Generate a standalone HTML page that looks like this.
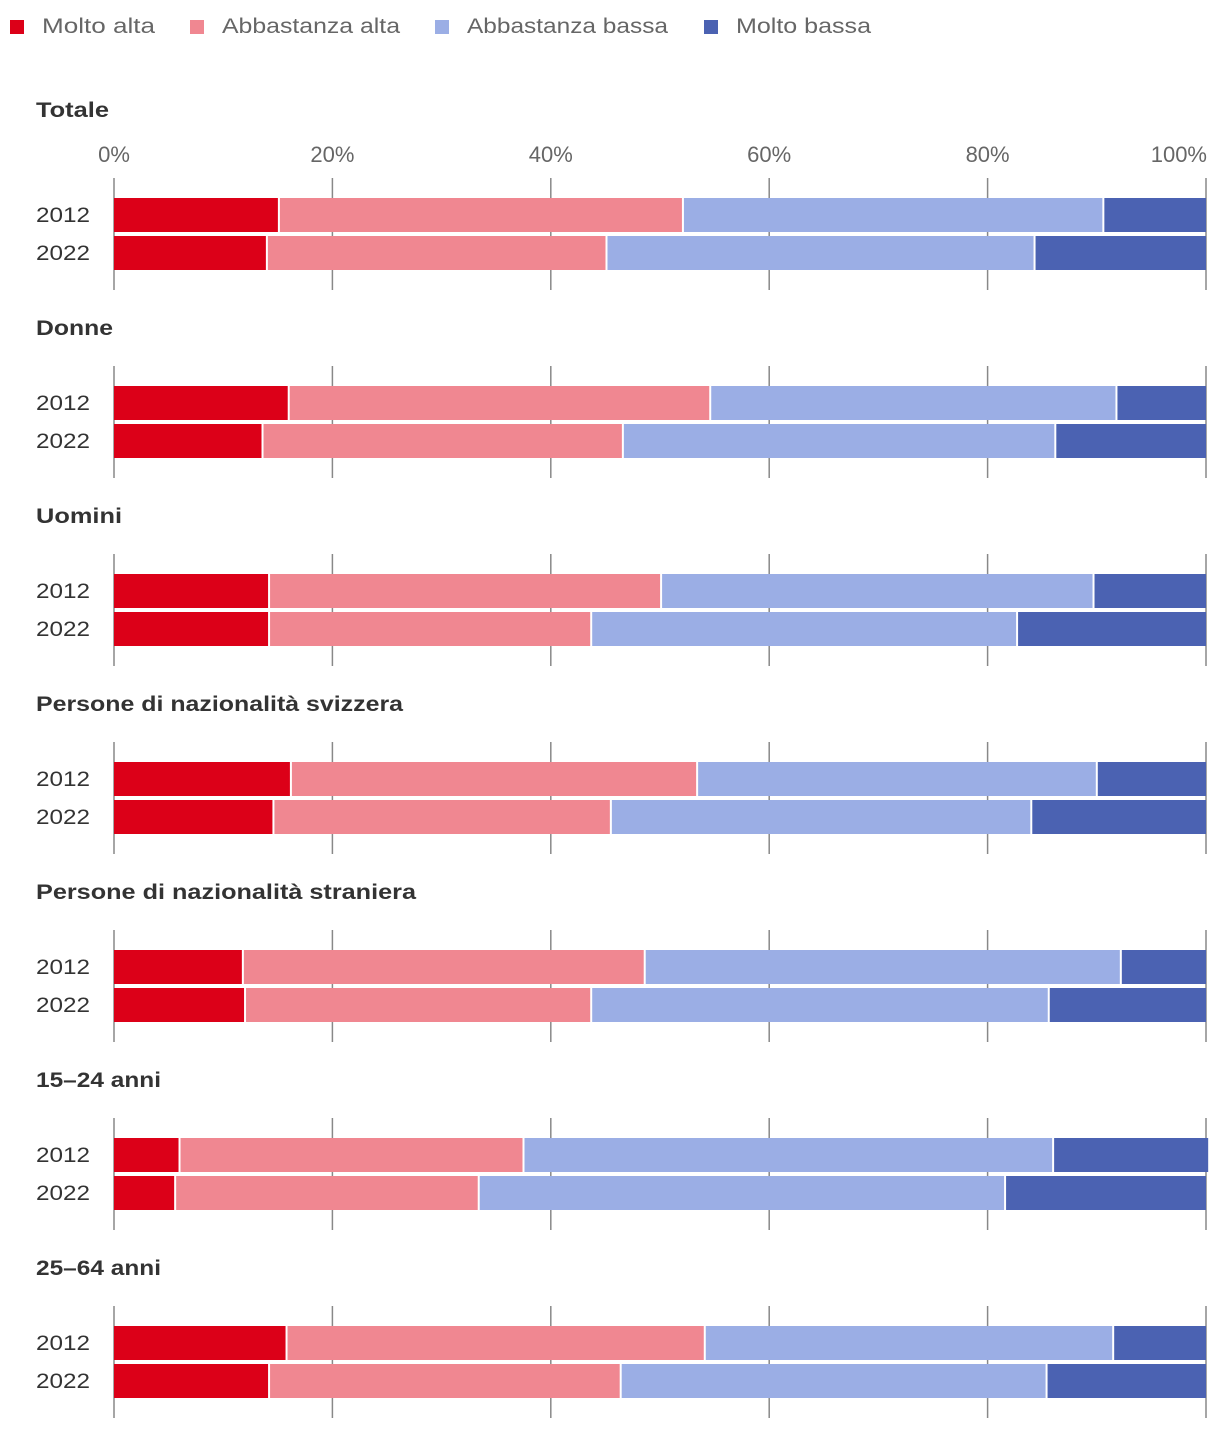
<!DOCTYPE html>
<html><head><meta charset="utf-8">
<style>
body{margin:0;background:#fff;font-family:"Liberation Sans",sans-serif;}
svg{display:block}
</style></head>
<body>
<svg id="chart" width="1220" height="1430" xmlns="http://www.w3.org/2000/svg"></svg>
<script>
const seriesNames = ["Molto alta","Abbastanza alta","Abbastanza bassa","Molto bassa"];
const colors = ["#dc0018","#f08791","#9baee5","#4b62b2"];
const groups = ["Totale","Donne","Uomini","Persone di nazionalità svizzera","Persone di nazionalità straniera","15–24 anni","25–64 anni"];
const years = ["2012","2022"];
const moltoAlta = [[15.1,14.0],[16.0,13.6],[14.2,14.2],[16.2,14.6],[11.8,12.0],[6.0,5.6],[15.8,14.2]];
const abbAlta = [[37.0,31.1],[38.6,33.0],[35.9,29.5],[37.2,30.9],[36.8,31.7],[31.5,27.8],[38.3,32.2]];
const abbBassa = [[38.5,39.2],[37.2,39.6],[39.6,39.0],[36.6,38.5],[43.6,41.9],[48.5,48.2],[37.4,39.0]];
const moltoBassa = [[9.4,15.7],[8.2,13.8],[10.3,17.3],[10.0,16.0],[7.8,14.4],[14.2,18.4],[8.5,14.6]];
const ticks = [0,20,40,60,80,100];
const tickLabels = ["0%","20%","40%","60%","80%","100%"];

const NS="http://www.w3.org/2000/svg";
const svg=document.getElementById('chart');
function el(tag,attrs,parent){const e=document.createElementNS(NS,tag);for(const k in attrs)e.setAttribute(k,attrs[k]);(parent||svg).appendChild(e);return e;}
const x0=114,x1=1206;
const xScale=v=>x0+(x1-x0)*v/100;

const legendX=[10,190,435,704];
const legendW=[113,178,201,135];
seriesNames.forEach((n,i)=>{
  const g=el('g',{});
  
  
  el('rect',{x:legendX[i],y:20,width:14,height:14,fill:colors[i]},g);
  const t=el('text',{x:legendX[i]+32,y:33,'font-size':21,fill:'#666',textLength:legendW[i],lengthAdjust:'spacingAndGlyphs'},g);
  t.textContent=n;
});

const titleW=[73,77,86,367,380,125,125];
const data=[moltoAlta,abbAlta,abbBassa,moltoBassa];
groups.forEach((gname,gi)=>{
  const off=gi*188;
  const g=el('g',{});
  
  
  const ty = gi===0 ? 117 : 335+(gi-1)*188;
  const title=el('text',{x:36,y:ty,'font-size':21,'font-weight':'bold',fill:'#333',textLength:titleW[gi],lengthAdjust:'spacingAndGlyphs'},g);
  
  
  title.textContent=gname;
  ticks.forEach((tv,ti)=>{
    const ln=el('line',{x1:xScale(tv),x2:xScale(tv),y1:178+off,y2:290+off,stroke:'#888','stroke-width':1.5},g);
    
    
    if(gi===0){
      const t=el('text',{x:ti===5?1207:xScale(tv),y:162,'font-size':22,fill:'#666','text-anchor':ti===5?'end':'middle'},g);
      
      
      t.textContent=tickLabels[ti];
    }
  });
  years.forEach((yr,yi)=>{
    const yTop=198+off+yi*38;
    const lab=el('text',{x:36,y:yTop+24,'font-size':21,fill:'#333',textLength:54,lengthAdjust:'spacingAndGlyphs'},g);
    
    
    lab.textContent=yr;
    let cum=0;
    data.forEach((s,si)=>{
      const v=s[gi][yi];
      const xa=xScale(cum)+(si>0?1:0), xb=xScale(cum+v)-(si<3?1:0);
      const r=el('rect',{x:xa,y:yTop,width:Math.max(0,xb-xa),height:34,fill:colors[si]},g);
      
      
      cum+=v;
    });
  });
});
</script>
</body></html>
